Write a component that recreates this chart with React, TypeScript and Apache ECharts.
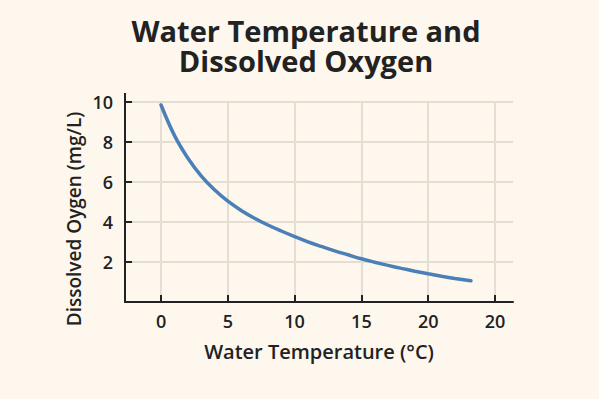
import React, { useEffect, useRef } from "react";
import * as echarts from "echarts";

const temperature = [0, 1, 2, 3, 4, 5, 6, 7, 8, 9, 10, 11, 12, 13, 14, 15, 16, 17, 18, 19, 20, 21, 22, 23.2];
const oxygen = [9.85, 8.33, 7.2, 6.31, 5.61, 5.04, 4.58, 4.19, 3.85, 3.55, 3.27, 3.01, 2.78, 2.56, 2.36, 2.16, 1.99, 1.83, 1.68, 1.54, 1.41, 1.29, 1.18, 1.06];
const xTickValues = [0, 5, 10, 15, 20, 25];
const xTickLabels = ["0", "5", "10", "15", "20", "20"];
const yTickValues = [2, 4, 6, 8, 10];
const titleLines = ["Water Temperature and", "Dissolved Oxygen"];

const FONT = "'Open Sans', 'Noto Sans', sans-serif";
const INK = "#222222";
const GRID = "#e3ddd2";

export default function App() {
  const ref = useRef<HTMLDivElement>(null);
  useEffect(() => {
    if (!ref.current) return;
    const chart = echarts.init(ref.current, undefined, { renderer: "svg" });
    chart.setOption({
      animation: false,
      backgroundColor: "#fdf7ee",
      title: titleLines.map((t, i) => ({
        text: t,
        left: 306,
        top: 16 + i * 29.5,
        padding: 0,
        textAlign: "center",
        textStyle: {
          fontFamily: FONT,
          fontSize: 29,
          fontWeight: "bold",
          lineHeight: 29,
          color: INK,
        },
      })),
      grid: { left: 125, right: 86, top: 102, bottom: 97 },
      xAxis: {
        type: "value",
        min: -2.7,
        max: 26.35,
        name: "Water Temperature (°C)",
        nameLocation: "middle",
        nameGap: 39,
        nameTextStyle: { fontFamily: FONT, fontSize: 20, fontWeight: 600, color: INK },
        axisLine: { show: true, onZero: false, lineStyle: { color: INK, width: 2 } },
        axisTick: {
          show: true,
          inside: true,
          length: 7,
          customValues: xTickValues,
          lineStyle: { color: INK, width: 2 },
        },
        axisLabel: {
          customValues: xTickValues,
          margin: 10,
          fontFamily: FONT,
          fontSize: 18,
          fontWeight: 600,
          color: INK,
          formatter: (v: number) => {
            const i = xTickValues.indexOf(v);
            return i >= 0 ? xTickLabels[i] : "";
          },
        },
        splitLine: { show: true, lineStyle: { color: GRID, width: 2 } },
      },
      yAxis: {
        type: "value",
        min: 0,
        max: 10,
        interval: 2,
        axisLine: { show: true, onZero: false, lineStyle: { color: INK, width: 2 } },
        axisTick: {
          show: true,
          inside: true,
          length: 7,
          customValues: yTickValues,
          lineStyle: { color: INK, width: 2 },
        },
        axisLabel: {
          customValues: yTickValues,
          margin: 12,
          fontFamily: FONT,
          fontSize: 18,
          fontWeight: 600,
          color: INK,
        },
        splitLine: { show: true, lineStyle: { color: GRID, width: 2 } },
      },
      graphic: [
        {
          type: "line",
          shape: { x1: 125, y1: 93, x2: 125, y2: 103 },
          style: { stroke: INK, lineWidth: 2 },
        },
        {
          type: "text",
          x: 74,
          y: 219,
          rotation: Math.PI / 2,
          style: {
            text: "Dissolved Oygen (mg/L)",
            fontFamily: FONT,
            fontSize: 19,
            fontWeight: 600,
            fill: INK,
            align: "center",
            verticalAlign: "middle",
          },
        },
      ],
      series: [
        {
          type: "line",
          data: temperature.map((t, i) => [t, oxygen[i]]),
          smooth: 0.4,
          showSymbol: false,
          lineStyle: { color: "#4b7fb8", width: 3.5, cap: "round" },
        },
      ],
    });
    return () => chart.dispose();
  }, []);
  return (
    <div
      ref={ref}
      style={{ position: "fixed", left: 0, top: 0, width: 599, height: 399 }}
    />
  );
}
